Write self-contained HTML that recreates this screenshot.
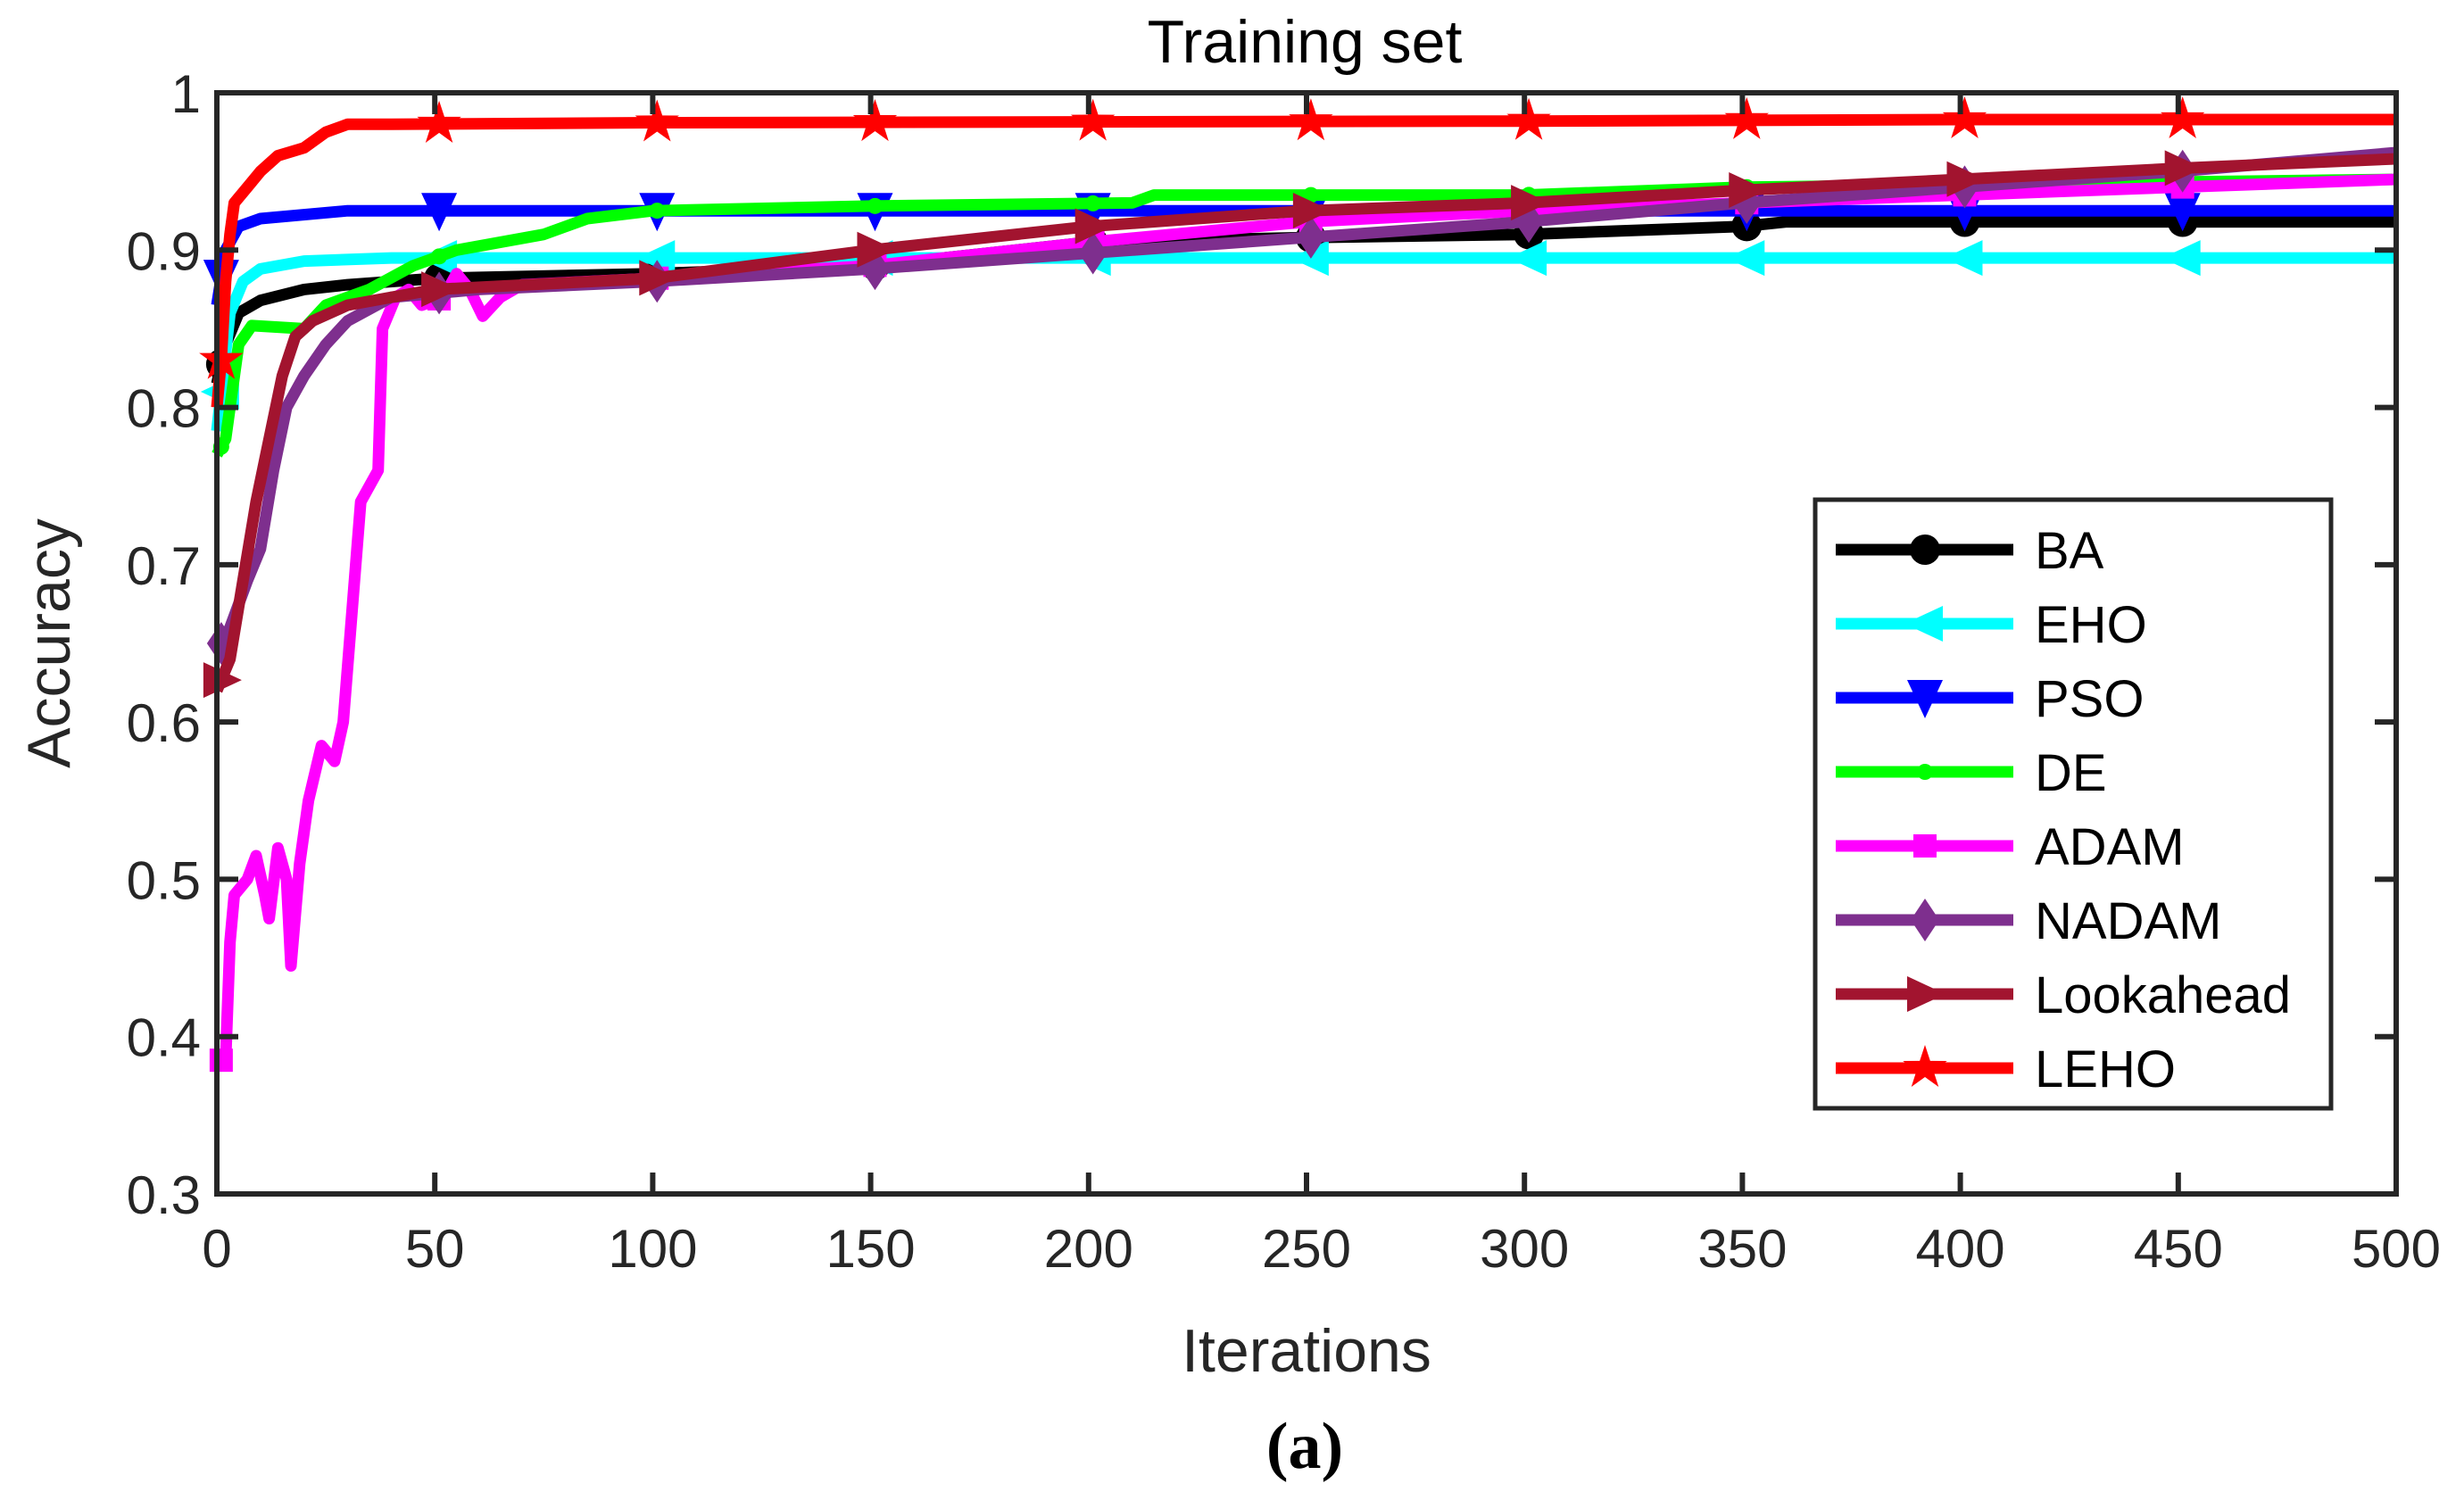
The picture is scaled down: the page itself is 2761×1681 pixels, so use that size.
<!DOCTYPE html>
<html><head><meta charset="utf-8"><style>
html,body{margin:0;padding:0;background:#fff;}
svg{display:block;font-family:"Liberation Sans",sans-serif;}
</style></head><body>
<svg id="chart" width="2761" height="1681" viewBox="0 0 2761 1681" xmlns="http://www.w3.org/2000/svg">
<rect width="2761" height="1681" fill="#fff"/>
<g id="marks"></g>
<g id="axes"></g>
<g id="legend"></g>
</svg>
<script>
const seriesNames=["BA","EHO","PSO","DE","ADAM","NADAM","Lookahead","LEHO"];
const xTicks=[0,50,100,150,200,250,300,350,400,450,500];
const yTicks=[0.3,0.4,0.5,0.6,0.7,0.8,0.9,1];
const yTickLabels=["0.3","0.4","0.5","0.6","0.7","0.8","0.9","1"];
const baX=[0,2,5,10,20,30,50,100,150,200,250,300,350,360,500];
const baY=[0.815,0.84,0.86,0.868,0.875,0.878,0.882,0.885,0.89,0.905,0.908,0.91,0.915,0.918,0.918];
const ehoX=[0,3,6,10,20,40,500];
const ehoY=[0.785,0.86,0.88,0.888,0.893,0.895,0.895];
const psoX=[0,2,5,10,30,500];
const psoY=[0.865,0.9,0.915,0.92,0.925,0.925];
const deX=[0,2,5,8,20,25,35,45,55,75,85,100,150,210,215,300,350,500];
const deY=[0.77,0.78,0.84,0.852,0.85,0.865,0.875,0.89,0.9,0.91,0.92,0.925,0.928,0.93,0.935,0.935,0.94,0.945];
const adamX=[0,2,3,4,7,9,11,12,14,16,17,19,21,24,27,29,31,33,37,38,41,44,47,52,55,58,61,65,70,100,150,200,250,300,400,500];
const adamY=[0.385,0.385,0.46,0.49,0.5,0.515,0.49,0.475,0.52,0.5,0.445,0.51,0.55,0.585,0.575,0.6,0.67,0.74,0.76,0.85,0.87,0.875,0.865,0.87,0.885,0.875,0.858,0.87,0.878,0.882,0.89,0.905,0.918,0.925,0.935,0.945];
const nadamX=[0,3,7,10,13,16,20,25,30,40,60,100,150,200,250,300,350,400,450,500];
const nadamY=[0.645,0.66,0.69,0.71,0.76,0.8,0.82,0.84,0.855,0.87,0.875,0.88,0.888,0.898,0.908,0.918,0.93,0.94,0.95,0.962];
const lookX=[0,3,6,9,12,15,18,22,30,50,100,150,200,250,300,350,400,450,500];
const lookY=[0.62,0.64,0.69,0.74,0.78,0.82,0.845,0.855,0.865,0.875,0.882,0.9,0.915,0.925,0.93,0.938,0.945,0.952,0.958];
const lehoX=[0,1,2,3,4,7,10,14,20,25,30,40,100,300,400,500];
const lehoY=[0.8,0.83,0.88,0.91,0.93,0.94,0.95,0.96,0.965,0.975,0.98,0.98,0.981,0.982,0.983,0.983];
const markerIters=[1,51,101,151,201,251,301,351,401,451];

const L=243,R=2685,T=104,B=1338;
const xs=v=>L+(v-0)/(500-0)*(R-L);
const ys=v=>B-(v-0.3)/(1-0.3)*(B-T);
const NS="http://www.w3.org/2000/svg";
function mk(tag,attrs,parent){const e=document.createElementNS(NS,tag);for(const k in attrs)e.setAttribute(k,attrs[k]);parent.appendChild(e);return e;}
const marks=document.getElementById('marks'),axes=document.getElementById('axes'),legend=document.getElementById('legend');
const styles=[
 {c:"#000000",m:"circle"},{c:"#00FFFF",m:"left"},{c:"#0000FF",m:"down"},{c:"#00FF00",m:"dot"},
 {c:"#FF00FF",m:"square"},{c:"#7E2F8E",m:"diamond"},{c:"#A2142F",m:"right"},{c:"#FF0000",m:"star"}];
const data=[[baX,baY],[ehoX,ehoY],[psoX,psoY],[deX,deY],[adamX,adamY],[nadamX,nadamY],[lookX,lookY],[lehoX,lehoY]];
function interp(X,Y,x){for(let i=1;i<X.length;i++){if(x<=X[i]){const t=(x-X[i-1])/(X[i]-X[i-1]);return Y[i-1]+t*(Y[i]-Y[i-1]);}}return Y[Y.length-1];}
function marker(type,cx,cy,col,parent){
 const s=20;let e;
 if(type==="circle")e=mk('circle',{cx:cx,cy:cy,r:17,fill:col},parent);
 else if(type==="dot")e=mk('circle',{cx:cx,cy:cy,r:9,fill:col},parent);
 else if(type==="square")e=mk('rect',{x:cx-13,y:cy-13,width:26,height:26,fill:col},parent);
 else{let p;
  if(type==="left")p=[[cx-s-3,cy],[cx+s,cy-s],[cx+s,cy+s]];
  else if(type==="right")p=[[cx+s+3,cy],[cx-s,cy-s],[cx-s,cy+s]];
  else if(type==="down")p=[[cx,cy+s+3],[cx-s,cy-s],[cx+s,cy-s]];
  else if(type==="diamond")p=[[cx,cy-s-4],[cx+s-4,cy],[cx,cy+s+4],[cx-s+4,cy]];
  else{p=[];for(let i=0;i<10;i++){const r=i%2?10:26,a=-Math.PI/2+i*Math.PI/5;p.push([cx+r*Math.cos(a),cy+r*Math.sin(a)]);}}
  e=mk('polygon',{points:p.map(q=>q.join(',')).join(' '),fill:col},parent);}
 return e;}
data.forEach((d,i)=>{
 const g=mk('g',{},marks);
 
 
 const pts=d[0].map((x,j)=>xs(x).toFixed(1)+','+ys(d[1][j]).toFixed(1)).join(' ');
 const pl=mk('polyline',{points:pts,fill:'none',stroke:styles[i].c,'stroke-width':13,'stroke-linejoin':'round'},g);
 
 
 markerIters.forEach(mi=>{const m=marker(styles[i].m,xs(mi),ys(interp(d[0],d[1],mi)),styles[i].c,g);
  
  });
});
const box=mk('rect',{x:L,y:T,width:R-L,height:B-T,fill:'none',stroke:'#262626','stroke-width':6},axes);


xTicks.forEach(v=>{const x=xs(v);
 mk('line',{x1:x,y1:B,x2:x,y2:B-24,stroke:'#262626','stroke-width':6},axes);
 mk('line',{x1:x,y1:T,x2:x,y2:T+24,stroke:'#262626','stroke-width':6},axes);
 const t=mk('text',{x:x,y:B+82,'font-size':60,'text-anchor':'middle',fill:'#262626'},axes);t.textContent=v;
 
 });
yTicks.forEach((v,i)=>{const y=ys(v);
 mk('line',{x1:L,y1:y,x2:L+24,y2:y,stroke:'#262626','stroke-width':6},axes);
 mk('line',{x1:R,y1:y,x2:R-24,y2:y,stroke:'#262626','stroke-width':6},axes);
 const t=mk('text',{x:L-18,y:y+22,'font-size':60,'text-anchor':'end',fill:'#262626'},axes);t.textContent=yTickLabels[i];
 
 });
</script>
<svg style="position:absolute;left:0;top:0" width="2761" height="1681" xmlns="http://www.w3.org/2000/svg">
<text x="1462" y="70" font-size="68" text-anchor="middle" fill="#000" font-family="Liberation Sans, sans-serif">Training set</text>
<text x="1464" y="1537" font-size="68" text-anchor="middle" fill="#262626" font-family="Liberation Sans, sans-serif">Iterations</text>
<text transform="translate(78,721) rotate(-90)" font-size="68" text-anchor="middle" fill="#262626" font-family="Liberation Sans, sans-serif">Accuracy</text>
<text x="1462" y="1645" font-size="74" font-weight="bold" text-anchor="middle" fill="#000" font-family="Liberation Serif, serif">(a)</text>
</svg>
<script>
(function(){
 const lg=document.getElementById('legend');
 const bg=mk('rect',{x:2034,y:560,width:578,height:682,fill:'#fff',stroke:'#262626','stroke-width':5},lg);
 
 
 seriesNames.forEach((n,i)=>{const y=616+i*83;
  const g=mk('g',{},lg);
  
  
  mk('line',{x1:2057,y1:y,x2:2256,y2:y,stroke:styles[i].c,'stroke-width':13},g);
  marker(styles[i].m,2157,y,styles[i].c,g);
  const t=mk('text',{x:2280,y:y+21,'font-size':58,fill:'#000'},g);t.textContent=n;});
})();
</script>
</body></html>
